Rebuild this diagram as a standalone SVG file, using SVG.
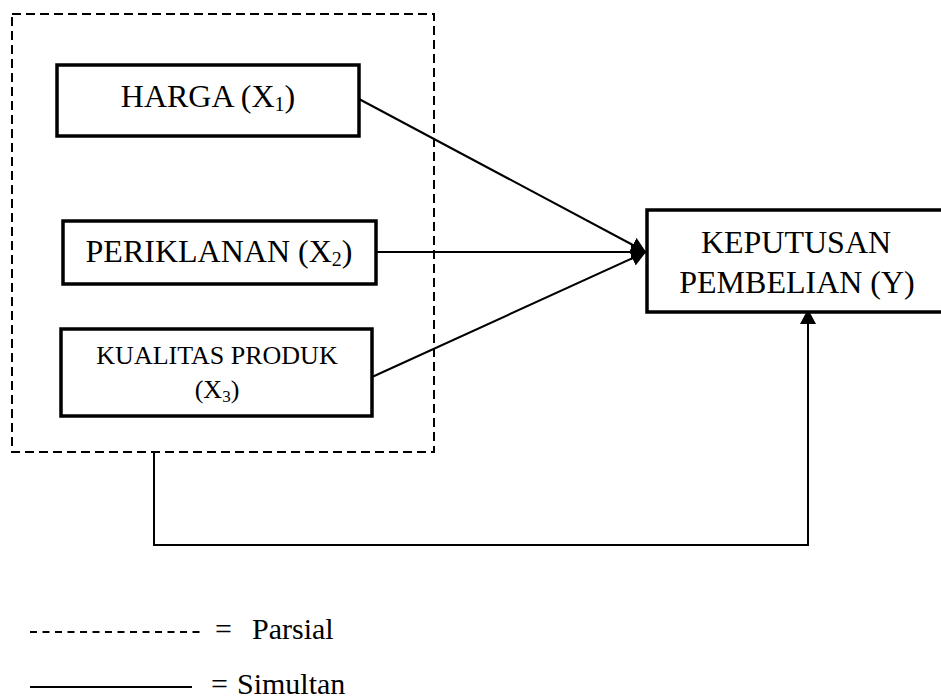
<svg xmlns="http://www.w3.org/2000/svg" width="941" height="700" viewBox="0 0 941 700">
<defs>
<style>
.box{fill:#fff;stroke:#000;stroke-width:3.5}
.t{font-family:"Liberation Serif","Times New Roman",serif;fill:#000;text-anchor:middle}
.l{font-family:"Liberation Serif","Times New Roman",serif;fill:#000}
.conn{fill:none;stroke:#000;stroke-width:2}
.dash{fill:none;stroke:#000;stroke-width:2;stroke-dasharray:9 5}
</style>
<marker id="ah2" viewBox="0 0 10 10" refX="10" refY="5" markerWidth="15" markerHeight="16" markerUnits="userSpaceOnUse" orient="auto" preserveAspectRatio="none">
<path d="M0,0 L10,5 L0,10 Z" fill="#000"/>
</marker>
</defs>
<rect width="941" height="700" fill="#fff"/>
<rect id="group-box" class="dash" x="12" y="14" width="422" height="438"/>
<g id="connectors">
<line class="conn" x1="359" y1="99" x2="646" y2="252" marker-end="url(#ah2)"/>
<line class="conn" x1="372" y1="252" x2="646" y2="252" marker-end="url(#ah2)"/>
<line class="conn" x1="372" y1="377" x2="646" y2="252" marker-end="url(#ah2)"/>
<polyline class="conn" points="154,452 154,545 808,545 808,309" marker-end="url(#ah2)"/>
</g>
<g id="harga">
<rect class="box" x="57" y="65" width="302" height="71"/>
<text class="t" x="208" y="107" font-size="32">HARGA (X<tspan font-size="20" dy="4">1</tspan><tspan dy="-4">)</tspan></text>
</g>
<g id="periklanan">
<rect class="box" x="63" y="221" width="313" height="63"/>
<text class="t" x="219" y="262" font-size="32">PERIKLANAN (X<tspan font-size="20" dy="4">2</tspan><tspan dy="-4">)</tspan></text>
</g>
<g id="kualitas">
<rect class="box" x="61" y="329" width="311" height="87"/>
<text class="t" x="217" y="364" font-size="26">KUALITAS PRODUK</text>
<text class="t" x="217" y="398" font-size="26">(X<tspan font-size="17" dy="4">3</tspan><tspan dy="-4">)</tspan></text>
</g>
<g id="keputusan">
<path class="box" d="M945,210 L647,210 L647,312 L945,312"/>
<text class="t" x="796" y="253" font-size="32">KEPUTUSAN</text>
<text class="t" x="797" y="293" font-size="32">PEMBELIAN (Y)</text>
</g>
<g id="legend">
<line stroke="#000" stroke-width="2" stroke-dasharray="7 5.5" x1="30" y1="632" x2="205" y2="632"/>
<text class="l" y="639" font-size="30"><tspan x="215">=</tspan><tspan x="252">Parsial</tspan></text>
<line stroke="#000" stroke-width="2" x1="30" y1="687" x2="192" y2="687"/>
<text class="l" y="694" font-size="30"><tspan x="211">=</tspan><tspan x="237">Simultan</tspan></text>
</g>
</svg>
